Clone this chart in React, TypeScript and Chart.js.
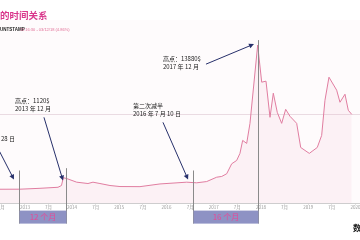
import React, { useEffect, useRef } from "react";
import { Chart, registerables } from "chart.js";

Chart.register(...registerables);

// ---- data (time in fractional years, BTC price in USD) ----
const DATES = [
  2012.473, 2012.896, 2013.32, 2013.701, 2013.775, 2013.813, 2013.885, 2014.097,
  2014.336, 2014.442, 2014.59, 2014.802, 2015.014, 2015.437, 2015.861, 2016.427,
  2016.638, 2016.85, 2017.062, 2017.168, 2017.274, 2017.38, 2017.485, 2017.555,
  2017.612, 2017.697, 2017.767, 2017.93, 2018.015, 2018.106, 2018.191, 2018.261,
  2018.345, 2018.438, 2018.523, 2018.614, 2018.756, 2018.841, 2019.023, 2019.192,
  2019.285, 2019.355, 2019.44, 2019.603, 2019.673, 2019.779, 2019.849, 2019.921,
];
const PRICES = [
  10, 15, 100, 200, 370, 1120, 1040, 690,
  560, 690, 560, 370, 270, 260, 520, 690,
  630, 750, 1170, 1240, 1500, 2460, 2780, 3460,
  4710, 4420, 6350, 13880, 10310, 10410, 6930, 9250,
  7410, 6350, 7700, 7030, 6350, 4030, 3460, 4030,
  5190, 8570, 10790, 9540, 8380, 9150, 7610, 7220,
];

const TICK_VALUES = [2012.5, 2013, 2013.5, 2014, 2014.5, 2015, 2015.5, 2016, 2016.5, 2017, 2017.5, 2018, 2018.5, 2019, 2019.5, 2020];
const TICK_LABELS = ["7月", "2013", "7月", "2014", "7月", "2015", "7月", "2016", "7月", "2017", "7月", "2018", "7月", "2019", "7月", "2020"];
const X_MIN = 2012.473;
const X_MAX = 2020.097;
const Y_MIN = -1371;
const Y_MAX = 16293;
const GRID_VALUES = [7230];

// event markers: halving 1, peak 1, halving 2, peak 2
const EVENT_DATES = [2012.88, 2013.864, 2016.554, 2017.93];
const EVENT_TOPS = [1815, 2037, 1815, 14360];
const SPAN_FROM = [0, 2];
const SPAN_TO = [1, 3];
const SPAN_LABELS = ["12 个月", "16 个月"];

// annotations anchored in data units
const NOTE_LINES = [
  ["第一次减半", "2012 年 11 月 28 日"],
  ["高点：1120$", "2013 年 12 月"],
  ["第二次减半", "2016 年 7 月 10 日"],
  ["高点：13880$", "2017 年 12 月"],
];
const NOTE_T = [2012.79, 2012.79, 2015.289, 2015.924];
const NOTE_P = [5676, 8571, 8021, 12597];
const NOTE_RIGHT = [true, false, false, false];

const ARROW_FROM_T = [2012.43, 2013.404, 2015.924, 2016.835];
const ARROW_FROM_P = [3938, 6930, 6448, 12046];
const ARROW_TO_T = [2012.769, 2013.807, 2016.456, 2017.852];
const ARROW_TO_P = [946, 849, 946, 13977];

const TITLE = "的时间关系";
const SUB_1 = "UNTSTAMP";
const SUB_2 = "11:16:30 - 03/12/18 (4.86%)";
const CORNER = "数";

const CJK = '"Noto Sans CJK SC", "Noto Sans", sans-serif';

const overlay = {
  id: "overlay",
  beforeDraw(chart: any) {
    const { ctx, chartArea: a } = chart;
    ctx.save();
    ctx.fillStyle = "#fefbfc";
    ctx.fillRect(a.left, a.top, a.width, a.height);
    ctx.restore();
  },
  afterDraw(chart: any) {
    const { ctx, chartArea: a, scales } = chart;
    const xs = scales.x;
    const ys = scales.y;
    ctx.save();

    // vertical event lines
    ctx.strokeStyle = "#8a8a8a";
    ctx.lineWidth = 1;
    const ex = EVENT_DATES.map((d) => Math.round(xs.getPixelForValue(d)) + 0.5);
    EVENT_DATES.forEach((d, i) => {
      ctx.beginPath();
      ctx.moveTo(ex[i], ys.getPixelForValue(EVENT_TOPS[i]));
      ctx.lineTo(ex[i], a.bottom + 20);
      ctx.stroke();
    });

    // span boxes
    SPAN_LABELS.forEach((lab, i) => {
      const x1 = ex[SPAN_FROM[i]];
      const x2 = ex[SPAN_TO[i]];
      const top = a.bottom + 7;
      ctx.fillStyle = "rgb(142,146,196)";
      ctx.fillRect(x1, top, x2 - x1, 13);
      ctx.fillStyle = "rgb(232,72,150)";
      ctx.font = `8px ${CJK}`;
      ctx.textAlign = "center";
      ctx.textBaseline = "middle";
      ctx.fillText(lab, (x1 + x2) / 2, top + 6.5);
    });

    // notes
    ctx.fillStyle = "#222";
    ctx.font = `6px ${CJK}`;
    ctx.textAlign = "left";
    ctx.textBaseline = "middle";
    NOTE_LINES.forEach((lines, i) => {
      const px = xs.getPixelForValue(NOTE_T[i]);
      const py = ys.getPixelForValue(NOTE_P[i]);
      let lx = px;
      if (NOTE_RIGHT[i]) {
        const w = Math.max(...lines.map((l) => ctx.measureText(l).width));
        lx = px - w;
      }
      lines.forEach((l, k) => ctx.fillText(l, lx, py + k * 8));
    });

    // arrows
    ctx.strokeStyle = "#27306b";
    ctx.fillStyle = "#27306b";
    ctx.lineWidth = 1;
    ARROW_FROM_T.forEach((_, i) => {
      const x1 = xs.getPixelForValue(ARROW_FROM_T[i]);
      const y1 = ys.getPixelForValue(ARROW_FROM_P[i]);
      const x2 = xs.getPixelForValue(ARROW_TO_T[i]);
      const y2 = ys.getPixelForValue(ARROW_TO_P[i]);
      const ang = Math.atan2(y2 - y1, x2 - x1);
      const L = 5;
      const W = 2.5;
      ctx.beginPath();
      ctx.moveTo(x1, y1);
      ctx.lineTo(x2 - L * Math.cos(ang) * 0.8, y2 - L * Math.sin(ang) * 0.8);
      ctx.stroke();
      ctx.beginPath();
      ctx.moveTo(x2, y2);
      ctx.lineTo(x2 - L * Math.cos(ang) + W * Math.sin(ang), y2 - L * Math.sin(ang) - W * Math.cos(ang));
      ctx.lineTo(x2 - L * Math.cos(ang) - W * Math.sin(ang), y2 - L * Math.sin(ang) + W * Math.cos(ang));
      ctx.closePath();
      ctx.fill();
    });

    // title & header
    ctx.textAlign = "left";
    ctx.textBaseline = "middle";
    ctx.fillStyle = "#d9388c";
    ctx.font = `bold 9.5px ${CJK}`;
    ctx.fillText(TITLE, a.left, 15);
    ctx.fillStyle = "#222";
    ctx.font = 'bold 4.5px "Liberation Sans", sans-serif';
    ctx.fillText(SUB_1, a.left, 30);
    ctx.fillStyle = "rgb(225,110,150)";
    ctx.font = '4px "Liberation Sans", sans-serif';
    ctx.fillText(SUB_2, a.left + 20, 30);

    ctx.fillStyle = "#111";
    ctx.font = `bold 8px ${CJK}`;
    ctx.fillText(CORNER, a.left + 353, 228);

    ctx.restore();
  },
};

export default function App() {
  const ref = useRef<HTMLCanvasElement | null>(null);
  useEffect(() => {
    if (!ref.current) return;
    const chart = new Chart(ref.current, {
      type: "line",
      data: {
        datasets: [
          {
            data: DATES.map((d, i) => ({ x: d, y: PRICES[i] })),
            borderColor: "rgb(224,125,160)",
            borderWidth: 1,
            backgroundColor: "rgba(242,175,200,0.13)",
            fill: "start",
            pointRadius: 0,
            tension: 0,
          },
        ],
      },
      options: {
        animation: false,
        responsive: false,
        layout: { padding: { left: 40, right: 40, top: 20, bottom: 30 } },
        plugins: { legend: { display: false }, tooltip: { enabled: false } },
        scales: {
          x: {
            type: "linear",
            min: X_MIN,
            max: X_MAX,
            afterBuildTicks: (s: any) => {
              s.ticks = TICK_VALUES.map((v) => ({ value: v }));
            },
            ticks: {
              autoSkip: false,
              maxRotation: 0,
              padding: 0,
              color: "#999",
              font: { size: 4.5, family: CJK },
              callback: (_v: any, i: number) => TICK_LABELS[i],
            },
            grid: { drawOnChartArea: false, tickLength: 1, color: "#cfcfcf" },
            border: { color: "#cfcfcf" },
          },
          y: {
            position: "right",
            min: Y_MIN,
            max: Y_MAX,
            afterBuildTicks: (s: any) => {
              s.ticks = GRID_VALUES.map((v) => ({ value: v }));
            },
            ticks: { display: false },
            grid: { drawTicks: false, color: "#eadbe2" },
            border: { display: false },
          },
        },
      },
      plugins: [overlay],
    });
    return () => chart.destroy();
  }, []);
  return (
    <div style={{ position: "fixed", left: 0, top: 0, width: 360, height: 240, overflow: "hidden", background: "#fff" }}>
      <canvas ref={ref} width={440} height={240} style={{ position: "absolute", left: -40, top: 0, width: 440, height: 240 }} />
    </div>
  );
}
